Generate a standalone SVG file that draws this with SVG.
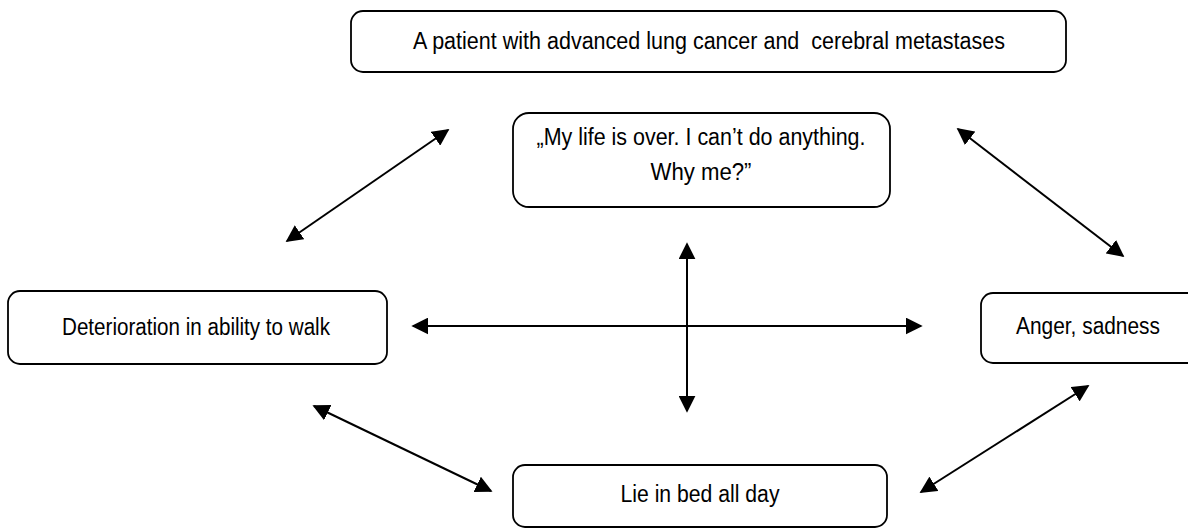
<svg xmlns="http://www.w3.org/2000/svg" width="1188" height="528" viewBox="0 0 1188 528">
<defs>
<style>
.box{fill:#fff;stroke:#000;stroke-width:1.8}
.t{font-family:"Liberation Sans",Arial,sans-serif;font-size:23px;fill:#000;text-anchor:middle;white-space:pre}
.c{stroke:#000;stroke-width:2;fill:none;marker-start:url(#a);marker-end:url(#a)}
</style>
<marker id="a" viewBox="0 0 10 10" refX="9" refY="5" markerWidth="8.5" markerHeight="8.5" markerUnits="strokeWidth" orient="auto-start-reverse">
<path d="M0,0 L10,5 L0,10 z" fill="#000"/>
</marker>
</defs>
<rect width="1188" height="528" fill="#fff"/>
<g id="n-top">
<rect class="box" x="351" y="11" width="715" height="61" rx="12"/>
<text class="t" x="709" y="49" textLength="592" lengthAdjust="spacingAndGlyphs" xml:space="preserve">A patient with advanced lung cancer and  cerebral metastases</text>
</g>
<g id="n-mid">
<rect class="box" x="513" y="113" width="377" height="94" rx="16"/>
<text class="t" x="701" y="145" textLength="329" lengthAdjust="spacingAndGlyphs">„My life is over. I can’t do anything.</text>
<text class="t" x="701" y="180" textLength="101" lengthAdjust="spacingAndGlyphs">Why me?”</text>
</g>
<g id="n-left">
<rect class="box" x="8" y="291" width="379" height="73" rx="12"/>
<text class="t" x="196" y="335" textLength="268" lengthAdjust="spacingAndGlyphs">Deterioration in ability to walk</text>
</g>
<g id="n-right">
<rect class="box" x="981" y="293" width="230" height="70" rx="12"/>
<text class="t" x="1088" y="334" textLength="144" lengthAdjust="spacingAndGlyphs">Anger, sadness</text>
</g>
<g id="n-bottom">
<rect class="box" x="513" y="465" width="374" height="62" rx="12"/>
<text class="t" x="700" y="502" textLength="159" lengthAdjust="spacingAndGlyphs">Lie in bed all day</text>
</g>
<g id="connectors">
<line class="c" x1="287" y1="241" x2="448" y2="130"/>
<line class="c" x1="958" y1="129" x2="1123" y2="256"/>
<line class="c" x1="413" y1="326" x2="921" y2="326"/>
<line class="c" x1="687" y1="244" x2="687" y2="411"/>
<line class="c" x1="314" y1="406" x2="491" y2="491"/>
<line class="c" x1="1088" y1="386" x2="921" y2="492"/>
</g>
</svg>
